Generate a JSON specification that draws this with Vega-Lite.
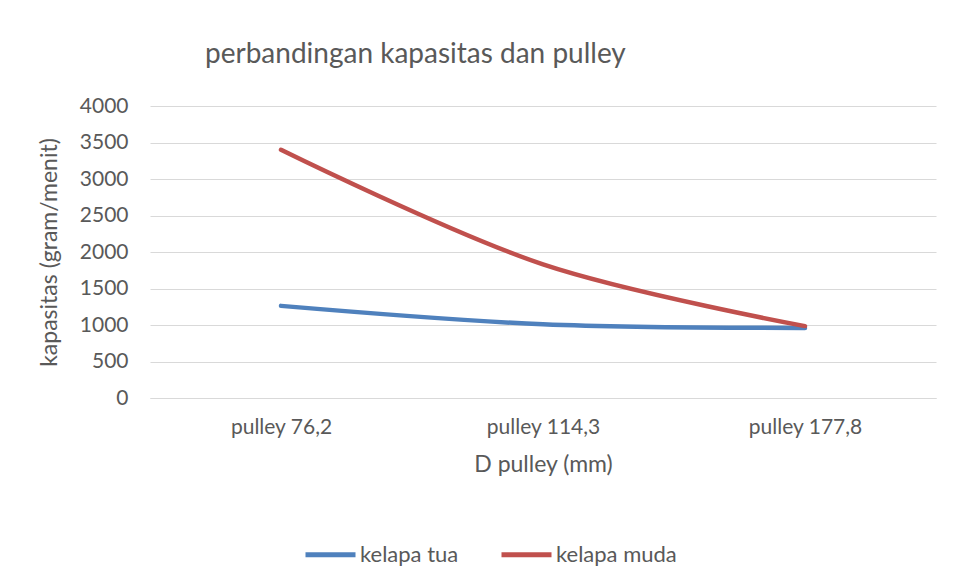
{
  "$schema": "https://vega.github.io/schema/vega-lite/v6.json",
  "width": 786,
  "height": 292,
  "autosize": {"type": "none"},
  "padding": {"left": 150, "top": 106, "right": 27, "bottom": 175},
  "background": "white",
  "config": {
    "font": "Lato",
    "view": {"stroke": null},
    "axis": {"labelColor": "#595959", "titleColor": "#595959", "titleFontWeight": "normal"},
    "legend": {"labelColor": "#595959"}
  },
  "title": {
    "text": "perbandingan kapasitas dan pulley",
    "anchor": "start",
    "frame": "group",
    "dx": 55,
    "offset": 26,
    "fontSize": 28,
    "fontWeight": "normal",
    "color": "#595959"
  },
  "data": {
    "values": [
      {"pulley": "pulley 76,2", "seri": "kelapa tua", "kapasitas": 1262},
      {"pulley": "pulley 114,3", "seri": "kelapa tua", "kapasitas": 1010},
      {"pulley": "pulley 177,8", "seri": "kelapa tua", "kapasitas": 960},
      {"pulley": "pulley 76,2", "seri": "kelapa muda", "kapasitas": 3400},
      {"pulley": "pulley 114,3", "seri": "kelapa muda", "kapasitas": 1830},
      {"pulley": "pulley 177,8", "seri": "kelapa muda", "kapasitas": 985}
    ]
  },
  "mark": {"type": "line", "interpolate": "catmull-rom", "strokeWidth": 4.5, "strokeCap": "round"},
  "encoding": {
    "x": {
      "field": "pulley",
      "type": "nominal",
      "sort": null,
      "scale": {"type": "point", "padding": 0.5},
      "axis": {
        "title": "D pulley (mm)",
        "labelAngle": 0,
        "labelFontSize": 21,
        "labelPadding": 18,
        "titleFontSize": 23,
        "titlePadding": 16,
        "ticks": false,
        "domainColor": "#d9d9d9",
        "grid": false
      }
    },
    "y": {
      "field": "kapasitas",
      "type": "quantitative",
      "scale": {"domain": [0, 4000], "nice": false},
      "axis": {
        "title": "kapasitas (gram/menit)",
        "values": [0, 500, 1000, 1500, 2000, 2500, 3000, 3500, 4000],
        "format": "d",
        "labelFontSize": 21,
        "labelPadding": 22,
        "titleFontSize": 23,
        "titlePadding": 18,
        "ticks": false,
        "domain": false,
        "gridColor": "#d9d9d9",
        "gridWidth": 1.2
      }
    },
    "color": {
      "field": "seri",
      "type": "nominal",
      "scale": {"domain": ["kelapa tua", "kelapa muda"], "range": ["#4f81bd", "#c0504d"]},
      "legend": {
        "title": null,
        "orient": "none",
        "legendX": 153,
        "legendY": 421,
        "direction": "horizontal",
        "symbolType": "stroke",
        "symbolStrokeWidth": 5,
        "symbolSize": 2500,
        "labelFontSize": 22,
        "labelOffset": 2,
        "columnPadding": 32
      }
    }
  }
}
